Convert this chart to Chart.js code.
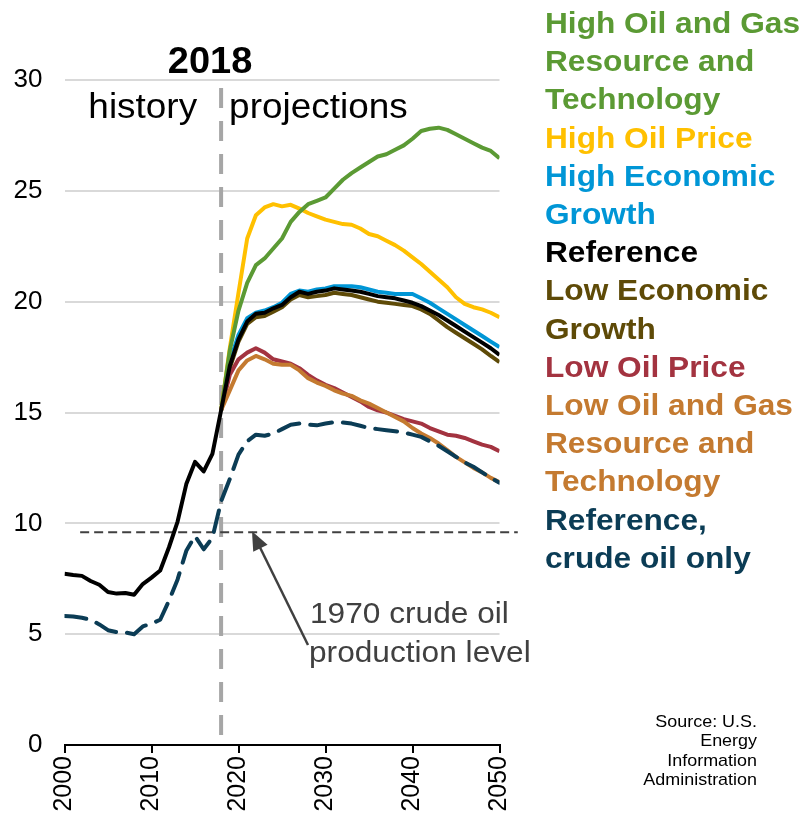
<!DOCTYPE html>
<html>
<head>
<meta charset="utf-8">
<script src="https://cdn.jsdelivr.net/npm/chart.js@4.4.1/dist/chart.umd.min.js"></script>
<style>
  html, body { margin: 0; padding: 0; background: #fff; }
</style>
</head>
<body>
<canvas id="liquidsChart" width="805" height="820"></canvas>
<script>
// --- DATA (million barrels per day) ---
const histYears = [2000, 2001, 2002, 2003, 2004, 2005, 2006, 2007, 2008, 2009,
                   2010, 2011, 2012, 2013, 2014, 2015, 2016, 2017, 2018];
const projYears = [2018, 2019, 2020, 2021, 2022, 2023, 2024, 2025, 2026, 2027, 2028,
                   2029, 2030, 2031, 2032, 2033, 2034, 2035, 2036, 2037, 2038, 2039,
                   2040, 2041, 2042, 2043, 2044, 2045, 2046, 2047, 2048, 2049, 2050];

// history
const refHistory = [7.73, 7.67, 7.63, 7.40, 7.23, 6.90, 6.83, 6.86, 6.78, 7.26,
                    7.55, 7.87, 8.91, 10.08, 11.77, 12.77, 12.34, 13.13, 15.1];
const crudeHistory = [5.82, 5.80, 5.74, 5.65, 5.44, 5.18, 5.09, 5.08, 5.00, 5.35,
                      5.48, 5.65, 6.50, 7.47, 8.76, 9.43, 8.83, 9.35, 10.99];

// projections 2018-2050
const highResource = [15.1, 17.8, 19.6, 20.85, 21.65, 21.95, 22.4, 22.85, 23.6, 24.05, 24.4,
                      24.55, 24.7, 25.1, 25.5, 25.8, 26.05, 26.3, 26.55, 26.65, 26.85, 27.05,
                      27.35, 27.7, 27.8, 27.85, 27.75, 27.55, 27.35, 27.15, 26.95, 26.8, 26.47];
const highPrice = [15.1, 17.9, 20.4, 22.85, 23.9, 24.25, 24.4, 24.3, 24.37, 24.2, 24.0,
                   23.85, 23.7, 23.6, 23.5, 23.47, 23.3, 23.05, 22.95, 22.75, 22.55, 22.3,
                   22.0, 21.7, 21.35, 21.0, 20.65, 20.2, 19.9, 19.75, 19.65, 19.5, 19.3];
const highEcon = [15.1, 17.3, 18.5, 19.25, 19.5, 19.6, 19.75, 19.95, 20.35, 20.5, 20.45,
                  20.55, 20.6, 20.7, 20.7, 20.7, 20.65, 20.55, 20.45, 20.4, 20.35, 20.35,
                  20.35, 20.15, 19.95, 19.7, 19.45, 19.2, 18.95, 18.7, 18.45, 18.2, 17.95];
const refProj = [15.1, 17.1, 18.3, 19.1, 19.45, 19.5, 19.7, 19.85, 20.2, 20.45, 20.35,
                 20.45, 20.5, 20.6, 20.55, 20.5, 20.45, 20.35, 20.25, 20.2, 20.15, 20.05,
                 19.95, 19.8, 19.6, 19.4, 19.15, 18.9, 18.65, 18.4, 18.15, 17.9, 17.6];
const lowEcon = [15.1, 17.0, 18.2, 19.0, 19.3, 19.35, 19.55, 19.75, 20.1, 20.3, 20.2,
                 20.25, 20.3, 20.4, 20.35, 20.3, 20.2, 20.1, 20.0, 19.95, 19.9, 19.85,
                 19.8, 19.65, 19.45, 19.15, 18.85, 18.6, 18.35, 18.1, 17.85, 17.55, 17.27];
const lowPrice = [15.1, 16.7, 17.4, 17.7, 17.9, 17.7, 17.4, 17.3, 17.2, 17.0, 16.7,
                  16.45, 16.25, 16.1, 15.9, 15.7, 15.5, 15.25, 15.1, 15.0, 14.85, 14.7,
                  14.6, 14.5, 14.3, 14.15, 14.0, 13.95, 13.85, 13.7, 13.55, 13.45, 13.25];
const lowResource = [15.1, 16.0, 16.9, 17.35, 17.55, 17.4, 17.2, 17.15, 17.15, 16.9, 16.55,
                     16.35, 16.2, 16.0, 15.85, 15.75, 15.55, 15.4, 15.2, 15.0, 14.8, 14.6,
                     14.3, 14.05, 13.85, 13.6, 13.3, 13.0, 12.75, 12.5, 12.3, 12.05, 11.85];
const crudeProj = [10.99, 12.0, 13.1, 13.7, 14.0, 13.95, 14.05, 14.25, 14.45, 14.5, 14.45,
                   14.42, 14.5, 14.56, 14.55, 14.5, 14.4, 14.3, 14.25, 14.2, 14.15, 14.1,
                   14.0, 13.9, 13.7, 13.5, 13.25, 13.0, 12.75, 12.55, 12.3, 12.05, 11.83];

const level1970 = 9.6;   // 1970 crude oil production level
const splitYear = 2018;  // history | projections

const yTicks = [0, 5, 10, 15, 20, 25, 30];
const xTicks = [2000, 2010, 2020, 2030, 2040, 2050];

const FONT = '"Liberation Sans", Arial, Helvetica, sans-serif';
const STRETCH = 1.055; // text in the picture is a little wider than plain Arial

function toPoints(years, values) {
    return values.map((v, i) => ({ x: years[i], y: v }));
}

// text drawn slightly widened, anchored at x according to align
function wideText(ctx, text, x, y, align) {
    const w = ctx.measureText(text).width * STRETCH;
    let left = x;
    if (align === 'right') left = x - w;
    if (align === 'center') left = x - w / 2;
    ctx.save();
    ctx.textAlign = 'left';
    ctx.translate(left, y);
    ctx.scale(STRETCH, 1);
    ctx.fillText(text, 0, 0);
    ctx.restore();
}

// Legend labels, already wrapped as in the picture
const series = [
    { lines: ['High Oil and Gas', 'Resource and', 'Technology'], color: '#5b9a34', years: projYears, data: highResource, order: 4 },
    { lines: ['High Oil Price'], color: '#ffc000', years: projYears, data: highPrice, order: 5 },
    { lines: ['High Economic', 'Growth'], color: '#0096d6', years: projYears, data: highEcon, order: 6 },
    { lines: ['Reference'], color: '#000000', years: histYears.concat(projYears.slice(1)), data: refHistory.concat(refProj.slice(1)), order: 0 },
    { lines: ['Low Economic', 'Growth'], color: '#5e4a07', years: projYears, data: lowEcon, order: 7 },
    { lines: ['Low Oil Price'], color: '#a33340', years: projYears, data: lowPrice, order: 3 },
    { lines: ['Low Oil and Gas', 'Resource and', 'Technology'], color: '#c47a30', years: projYears, data: lowResource, order: 2 },
    { lines: ['Reference,', 'crude oil only'], color: '#0b3c55', years: histYears.concat(projYears.slice(1)), data: crudeHistory.concat(crudeProj.slice(1)), order: 1, dash: [22, 11] }
];

// --- PLUGINS ---
const backdrop = {
    id: 'backdrop',
    beforeDatasetsDraw(chart) {
        const { ctx, scales: { x, y } } = chart;
        ctx.save();
        // 2018 divider
        const sx = x.getPixelForValue(splitYear);
        ctx.strokeStyle = '#a6a6a6';
        ctx.lineWidth = 4;
        ctx.setLineDash([20, 13]);
        ctx.beginPath();
        ctx.moveTo(sx, 88);
        ctx.lineTo(sx, y.getPixelForValue(0));
        ctx.stroke();
        // 1970 level
        const ly = y.getPixelForValue(level1970);
        ctx.strokeStyle = '#404040';
        ctx.lineWidth = 2;
        ctx.setLineDash([9, 5]);
        ctx.beginPath();
        ctx.moveTo(x.getPixelForValue(2001.8), ly);
        ctx.lineTo(x.getPixelForValue(2052.1), ly);
        ctx.stroke();
        ctx.restore();
    }
};

const notes = {
    id: 'notes',
    afterDraw(chart) {
        const { ctx, scales: { x, y } } = chart;
        ctx.save();
        const sx = x.getPixelForValue(splitYear);

        ctx.fillStyle = '#000';
        ctx.textBaseline = 'alphabetic';
        ctx.font = 'bold 36px ' + FONT;
        wideText(ctx, '2018', sx - 11, 73, 'center');

        ctx.font = '35px ' + FONT;
        wideText(ctx, 'history', sx - 24, 118, 'right');
        wideText(ctx, 'projections', sx + 8, 118, 'left');

        // arrow to 1970 level
        const ly = y.getPixelForValue(level1970);
        const tipX = 252, tipY = ly - 1;
        const tailX = 308, tailY = 645;
        const ang = Math.atan2(tipY - tailY, tipX - tailX);
        ctx.strokeStyle = '#404040';
        ctx.fillStyle = '#404040';
        ctx.lineWidth = 2.5;
        ctx.beginPath();
        ctx.moveTo(tailX, tailY);
        ctx.lineTo(tipX - 14 * Math.cos(ang), tipY - 14 * Math.sin(ang));
        ctx.stroke();
        ctx.beginPath();
        ctx.moveTo(tipX, tipY);
        ctx.lineTo(tipX - 19 * Math.cos(ang) + 8 * Math.sin(ang), tipY - 19 * Math.sin(ang) - 8 * Math.cos(ang));
        ctx.lineTo(tipX - 19 * Math.cos(ang) - 8 * Math.sin(ang), tipY - 19 * Math.sin(ang) + 8 * Math.cos(ang));
        ctx.closePath();
        ctx.fill();

        ctx.font = '30px ' + FONT;
        wideText(ctx, '1970 crude oil', 310, 623, 'left');
        wideText(ctx, 'production level', 309, 662, 'left');

        // source
        ctx.fillStyle = '#000';
        ctx.font = '17px ' + FONT;
        ['Source: U.S.', 'Energy', 'Information', 'Administration'].forEach((t, i) => {
            wideText(ctx, t, 757, 727 + i * 19.3, 'right');
        });

        // side legend
        ctx.font = 'bold 30px ' + FONT;
        let ty = 33;
        chart.data.datasets.forEach(ds => {
            ds.legendLines.forEach(line => {
                ctx.fillStyle = ds.borderColor;
                wideText(ctx, line, 545, ty, 'left');
                ty += 38.2;
            });
        });
        ctx.restore();
    }
};

// --- CHART ---
const ctx = document.getElementById('liquidsChart').getContext('2d');
const chart = new Chart(ctx, {
    type: 'line',
    data: {
        datasets: series.map(s => ({
            label: s.lines.join(' '),
            legendLines: s.lines,
            data: toPoints(s.years, s.data),
            borderColor: s.color,
            backgroundColor: s.color,
            borderWidth: 4,
            borderDash: s.dash || [],
            borderCapStyle: s.dash ? 'round' : 'butt',
            borderJoinStyle: 'round',
            pointRadius: 0,
            tension: 0,
            fill: false,
            order: s.order
        }))
    },
    options: {
        responsive: false,
        animation: false,
        devicePixelRatio: 1,
        layout: { padding: { top: 80, right: 305.5, left: 0, bottom: 0 } },
        scales: {
            x: {
                type: 'linear',
                min: 2000,
                max: 2050,
                afterFit: s => { s.height = 75; },
                afterBuildTicks: s => { s.ticks = xTicks.map(v => ({ value: v })); },
                border: { display: true, color: '#000', width: 2 },
                grid: { drawOnChartArea: false, drawTicks: true, tickLength: 8, color: '#000', lineWidth: 2 },
                ticks: {
                    color: '#000',
                    font: { family: FONT, size: 25 },
                    padding: 3,
                    minRotation: 90,
                    maxRotation: 90,
                    callback: v => String(v)
                }
            },
            y: {
                min: 0,
                max: 30,
                afterFit: s => { s.width = 64.5; },
                afterBuildTicks: s => { s.ticks = yTicks.map(v => ({ value: v })); },
                border: { display: false },
                grid: { color: '#d9d9d9', lineWidth: 2, drawTicks: false },
                ticks: {
                    color: '#000',
                    font: { family: FONT, size: 26 },
                    padding: 22,
                    callback: v => String(v)
                }
            }
        },
        plugins: {
            legend: { display: false },
            tooltip: { enabled: false }
        }
    },
    plugins: [backdrop, notes]
});
</script>
</body>
</html>
